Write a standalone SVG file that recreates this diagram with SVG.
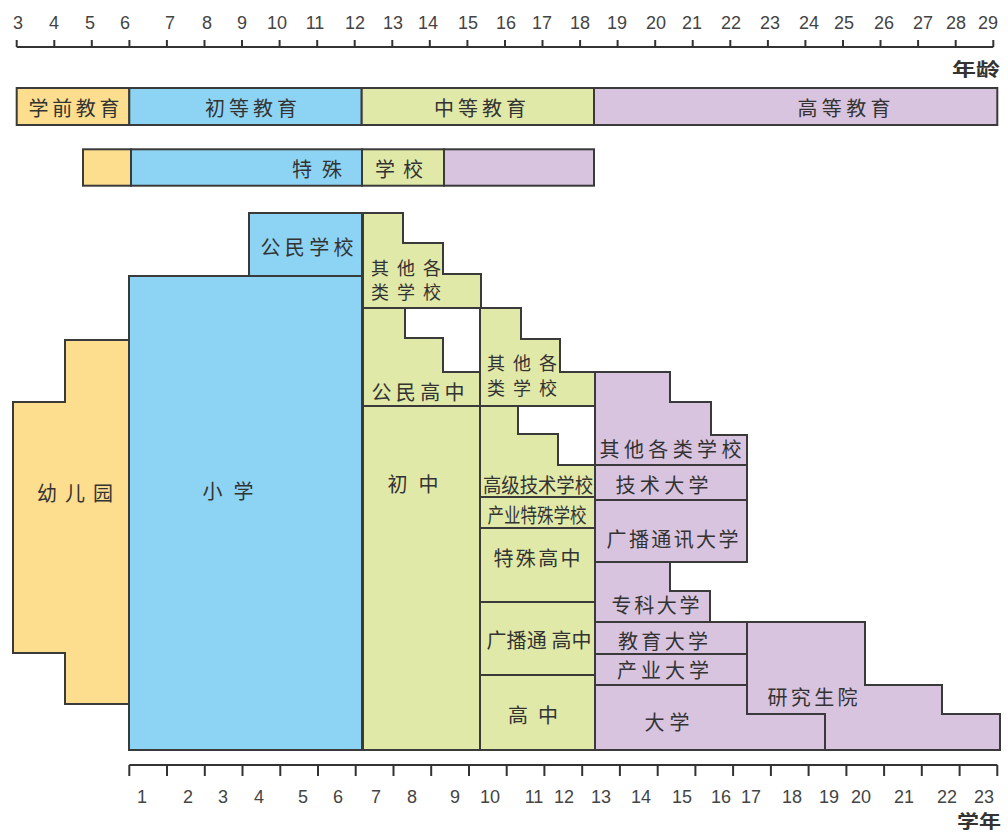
<svg xmlns="http://www.w3.org/2000/svg" width="1008" height="832" viewBox="0 0 1008 832">
<style>
.y{fill:#FDDE8E}
.b{fill:#8DD4F4}
.g{fill:#E1E9A9}
.p{fill:#D8C4DF}
.box{stroke:#3a3a3a;stroke-width:2;stroke-linejoin:miter}
.t{font-family:"Noto Sans CJK SC","Noto Sans",sans-serif;font-size:20px;fill:#333;text-anchor:middle;dominant-baseline:central}
.tl{font-family:"Noto Sans CJK SC","Noto Sans",sans-serif;font-size:18px;fill:#333;text-anchor:start;dominant-baseline:central}
.n{font-family:"Liberation Sans","DejaVu Sans",sans-serif;font-size:18px;fill:#444;text-anchor:middle}
.ax{stroke:#333;stroke-width:2;fill:none}
.u{font-family:"Noto Sans CJK SC",sans-serif;font-size:18px;font-weight:bold;fill:#333;text-anchor:start;dominant-baseline:central}
</style>
<rect x="0" y="0" width="1008" height="832" fill="#ffffff"/>

<g id="age-axis">
<path class="ax" d="M16.7 47 H993.3 M16.7 40 V47 M54.3 40 V47 M91.8 40 V47 M129.4 40 V47 M166.9 40 V47 M204.5 40 V47 M242 40 V47 M279.6 40 V47 M317.2 40 V47 M354.7 40 V47 M392.3 40 V47 M429.8 40 V47 M467.4 40 V47 M505 40 V47 M542.5 40 V47 M580.1 40 V47 M617.6 40 V47 M655.2 40 V47 M692.7 40 V47 M730.3 40 V47 M767.9 40 V47 M805.4 40 V47 M843 40 V47 M880.5 40 V47 M918.1 40 V47 M955.7 40 V47 M993.3 40 V47"/>
<text class="n" x="18" y="29">3</text>
<text class="n" x="54" y="29">4</text>
<text class="n" x="90" y="29">5</text>
<text class="n" x="125" y="29">6</text>
<text class="n" x="170" y="29">7</text>
<text class="n" x="207" y="29">8</text>
<text class="n" x="242" y="29">9</text>
<text class="n" x="277" y="29">10</text>
<text class="n" x="315" y="29">11</text>
<text class="n" x="355" y="29">12</text>
<text class="n" x="393" y="29">13</text>
<text class="n" x="428" y="29">14</text>
<text class="n" x="468" y="29">15</text>
<text class="n" x="506" y="29">16</text>
<text class="n" x="542" y="29">17</text>
<text class="n" x="580" y="29">18</text>
<text class="n" x="617" y="29">19</text>
<text class="n" x="656" y="29">20</text>
<text class="n" x="692" y="29">21</text>
<text class="n" x="731" y="29">22</text>
<text class="n" x="770" y="29">23</text>
<text class="n" x="809" y="29">24</text>
<text class="n" x="844" y="29">25</text>
<text class="n" x="884" y="29">26</text>
<text class="n" x="923" y="29">27</text>
<text class="n" x="956" y="29">28</text>
<text class="n" x="988" y="29">29</text>
<text class="u" x="952" y="68" textLength="48" lengthAdjust="spacingAndGlyphs">年龄</text>
</g>

<g id="stage-bar">
<rect class="box y" x="16.7" y="88" width="112.6" height="37"/>
<rect class="box b" x="129.3" y="88" width="232.4" height="37"/>
<rect class="box g" x="361.7" y="88" width="232.3" height="37"/>
<rect class="box p" x="594" y="88" width="403.3" height="37"/>
<text class="t" x="74" y="107" textLength="91">学前教育</text>
<text class="t" x="251" y="107" textLength="92">初等教育</text>
<text class="t" x="480" y="107" textLength="92">中等教育</text>
<text class="t" x="844" y="107" textLength="93">高等教育</text>
</g>

<g id="special-bar">
<rect class="box y" x="83" y="149.3" width="48" height="36.4"/>
<rect class="box b" x="131" y="149.3" width="231" height="36.4"/>
<rect class="box g" x="362" y="149.3" width="82" height="36.4"/>
<rect class="box p" x="444" y="149.3" width="150" height="36.4"/>
<text class="t" x="317" y="168" textLength="50">特殊</text>
<text class="t" x="399" y="168" textLength="48">学校</text>
</g>

<g id="kindergarten">
<polygon class="box y" points="65,340 129,340 129,704 65,704 65,653 13,653 13,402 65,402"/>
<text class="t" x="75" y="492" textLength="76">幼儿园</text>
</g>
<g id="elementary">
<rect class="box b" x="129" y="276" width="233" height="474"/>
<text class="t" x="228" y="490" textLength="51">小学</text>
</g>
<g id="civic-school">
<rect class="box b" x="249" y="213" width="113" height="63"/>
<text class="t" x="307" y="246" textLength="93">公民学校</text>
</g>
<g id="other-schools-1">
<polygon class="box g" points="363,213 403,213 403,243 443,243 443,274 481,274 481,308 363,308"/>
<text class="tl" x="371" y="267" textLength="70">其他各</text>
<text class="tl" x="371" y="291" textLength="70">类学校</text>
</g>
<g id="civic-high">
<polygon class="box g" points="363,308 405,308 405,338 443,338 443,372 481,372 481,406 363,406"/>
<text class="t" x="418" y="391" textLength="93">公民高中</text>
</g>
<g id="middle-school">
<rect class="box g" x="363" y="406" width="117" height="344"/>
<text class="t" x="413" y="483" textLength="51">初中</text>
</g>
<g id="other-schools-2">
<polygon class="box g" points="480,308 521,308 521,339 560,339 560,372 595,372 595,406 480,406"/>
<text class="tl" x="487" y="362" textLength="70">其他各</text>
<text class="tl" x="487" y="387" textLength="70">类学校</text>
</g>
<g id="technical-high">
<polygon class="box g" points="480,406 518,406 518,434 558,434 558,465 595,465 595,497 480,497"/>
<text class="t" x="538" y="484" textLength="110" lengthAdjust="spacingAndGlyphs">高级技术学校</text>
</g>
<g id="industry-special">
<rect class="box g" x="480" y="497" width="115" height="31"/>
<text class="t" x="537" y="514" textLength="99" lengthAdjust="spacingAndGlyphs">产业特殊学校</text>
</g>
<g id="special-high">
<rect class="box g" x="480" y="528" width="115" height="74"/>
<text class="t" x="537" y="557" textLength="87">特殊高中</text>
</g>
<g id="broadcast-high">
<rect class="box g" x="480" y="602" width="115" height="73"/>
<text class="t" x="539" y="639" textLength="105">广播通 高中</text>
</g>
<g id="high-school">
<rect class="box g" x="480" y="675" width="115" height="75"/>
<text class="t" x="533" y="714" textLength="50">高中</text>
</g>
<g id="other-schools-3">
<polygon class="box p" points="595,372 670,372 670,402 711,402 711,435 747,435 747,465 595,465"/>
<text class="t" x="670.5" y="448" textLength="142">其他各类学校</text>
</g>
<g id="tech-university">
<rect class="box p" x="595" y="465" width="152" height="35"/>
<text class="t" x="662" y="484" textLength="93">技术大学</text>
</g>
<g id="broadcast-university">
<rect class="box p" x="595" y="500" width="152" height="62"/>
<text class="t" x="672.5" y="538" textLength="132">广播通讯大学</text>
</g>
<g id="college">
<polygon class="box p" points="595,562 670,562 670,591 710,591 710,622 595,622"/>
<text class="t" x="655.5" y="604" textLength="88">专科大学</text>
</g>
<g id="education-university">
<rect class="box p" x="595" y="622" width="152" height="32"/>
<text class="t" x="663" y="640" textLength="90">教育大学</text>
</g>
<g id="industry-university">
<rect class="box p" x="595" y="654" width="152" height="31"/>
<text class="t" x="663" y="669" textLength="92">产业大学</text>
</g>
<g id="university">
<polygon class="box p" points="595,685 747,685 747,714 825,714 825,750 595,750"/>
<text class="t" x="667" y="721" textLength="45">大学</text>
</g>
<g id="graduate-school">
<polygon class="box p" points="747,622 865,622 865,685 942,685 942,714 1000,714 1000,750 825,750 825,714 747,714"/>
<text class="t" x="812.5" y="696" textLength="90">研究生院</text>
</g>

<g id="connectors"></g>

<g id="grade-axis">
<path class="ax" d="M129.3 765 H997.3 M129.3 765 V776 M167 765 V776 M204.8 765 V776 M242.5 765 V776 M280.3 765 V776 M318 765 V776 M355.7 765 V776 M393.5 765 V776 M431.2 765 V776 M469 765 V776 M506.7 765 V776 M544.4 765 V776 M582.2 765 V776 M619.9 765 V776 M657.7 765 V776 M695.4 765 V776 M733.1 765 V776 M770.9 765 V776 M808.6 765 V776 M846.4 765 V776 M884.1 765 V776 M921.8 765 V776 M959.6 765 V776 M997.3 765 V776"/>
<text class="n" x="142" y="803">1</text>
<text class="n" x="188" y="803">2</text>
<text class="n" x="223" y="803">3</text>
<text class="n" x="259" y="803">4</text>
<text class="n" x="303" y="803">5</text>
<text class="n" x="338" y="803">6</text>
<text class="n" x="376" y="803">7</text>
<text class="n" x="412" y="803">8</text>
<text class="n" x="455" y="803">9</text>
<text class="n" x="490" y="803">10</text>
<text class="n" x="534" y="803">11</text>
<text class="n" x="564" y="803">12</text>
<text class="n" x="601" y="803">13</text>
<text class="n" x="641" y="803">14</text>
<text class="n" x="682" y="803">15</text>
<text class="n" x="721" y="803">16</text>
<text class="n" x="751" y="803">17</text>
<text class="n" x="792" y="803">18</text>
<text class="n" x="829" y="803">19</text>
<text class="n" x="861" y="803">20</text>
<text class="n" x="904" y="803">21</text>
<text class="n" x="947" y="803">22</text>
<text class="n" x="984" y="803">23</text>
<text class="u" x="957" y="820" textLength="44" lengthAdjust="spacingAndGlyphs">学年</text>
</g>
</svg>
